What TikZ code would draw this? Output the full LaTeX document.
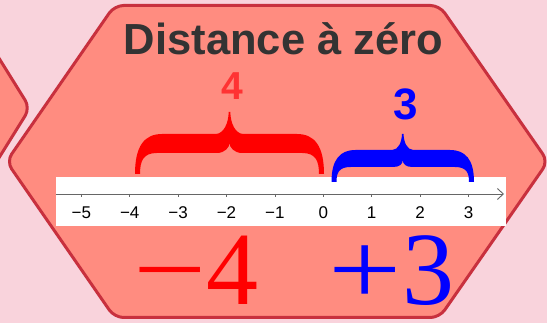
\documentclass[tikz,border=0pt]{standalone}
\usepackage{fontspec}
\setmainfont{Liberation Serif}
\setsansfont{Liberation Sans}
\usetikzlibrary{arrows.meta}

\definecolor{pinkbg}{HTML}{F9D3DC}
\definecolor{hexfill}{HTML}{FF8C80}
\definecolor{hexdraw}{HTML}{C8303E}
\definecolor{titlegrey}{HTML}{333333}
\definecolor{lightred}{HTML}{FF3333}

% filled curly brace: colour, left x, right x, foot y, band top, band bottom, tip y, notch y, corner
\newcommand{\fatbrace}[9]{%
  \pgfmathsetmacro{\bmid}{(#2+#3)/2}%
  \pgfmathsetmacro{\bcusp}{0.075*(#3-#2)}%
  \fill[#1] (#2,#4) .. controls (#2,{#5+0.3*(#4-#5)}) and ({#2+0.35*#9},#5) .. ({#2+#9},#5)
    -- ({\bmid-\bcusp},#5) .. controls ({\bmid-0.4*\bcusp},#5) and ({\bmid-1},{#5-0.5*(#5-#7)}) .. ({\bmid-0.8},#7)
    -- ({\bmid+0.8},#7) .. controls ({\bmid+1},{#5-0.5*(#5-#7)}) and ({\bmid+0.4*\bcusp},#5) .. ({\bmid+\bcusp},#5)
    -- ({#3-#9},#5) .. controls ({#3-0.35*#9},#5) and (#3,{#5+0.3*(#4-#5)}) .. (#3,#4)
    -- ({#3-5},#4) .. controls ({#3-5},{#6+0.4*(#4-#6)}) and ({#3-0.3*#9},#6) .. ({#3-0.8*#9},#6)
    -- ({\bmid+0.9*\bcusp},#6) .. controls ({\bmid+0.3*\bcusp},#6) and (\bmid,{#8+4}) .. (\bmid,#8)
    .. controls (\bmid,{#8+4}) and ({\bmid-0.3*\bcusp},#6) .. ({\bmid-0.9*\bcusp},#6)
    -- ({#2+0.8*#9},#6) .. controls ({#2+0.3*#9},#6) and ({#2+5},{#6+0.4*(#4-#6)}) .. ({#2+5},#4)
    -- cycle;}

\begin{document}
\begin{tikzpicture}[
    x=1pt, y=-1pt,
    hexa/.style={fill=hexfill, draw=hexdraw, line width=3pt, rounded corners=9pt, line join=round},
    ticklabel/.style={font=\sffamily\fontsize{17}{17}\selectfont, anchor=base},
    axisline/.style={draw=black!60, line width=0.9pt, -{Straight Barb[length=6pt,width=11pt]}},
    bignum/.style={font=\fontsize{104}{104}\selectfont, anchor=base, text depth=0pt, inner sep=0pt}
]

% background
\fill[pinkbg] (0,0) rectangle (547,323);
\useasboundingbox (0,0) rectangle (547,323);
\clip (0,0) rectangle (547,323);

% neighbour card and main card
\draw[hexa] (-112,-120) -- (30,108) -- (-112,336) -- cycle;
\draw[hexa] (277,5.5) -- (439.5,5.5) -- (548,161.5) -- (439.5,317.5) -- (114.5,317.5) -- (6.5,161.5) -- (114.5,5.5) -- cycle;

% title
\node[font=\sffamily\bfseries\fontsize{43.5}{43.5}\selectfont, text=titlegrey, anchor=base] (title) at (283.5,54.5) {Distance à zéro};

% number line
\node[fill=white, minimum width=450pt, minimum height=49pt, inner sep=0pt] (band) at (281,201.5) {};
\draw[axisline] (56,194) -- (504,194);
\foreach \n/\t in {-5/−5, -4/−4, -3/−3, -2/−2, -1/−1, 0/0, 1/1, 2/2, 3/3} {
  \draw[black!60, line width=0.6pt] ({323.3+48.4*(\n)},194) -- ++(0,3);
  \node[ticklabel] (tick\n) at ({323.3+48.4*(\n)},218.7) {\t};
}

% braces
\fatbrace{red}{135}{324}{174}{134}{153}{112}{143}{27}
\fatbrace{blue}{331.5}{474}{182}{150}{167}{134}{160}{24}

% distances
\node[font=\sffamily\bfseries\fontsize{39}{39}\selectfont, text=lightred, anchor=base] (redlen) at (232,99.3) {4};
\node[font=\sffamily\bfseries\fontsize{44}{44}\selectfont, text=blue, anchor=base] (bluelen) at (405.5,119.5) {3};

% numbers
\node[bignum, text=red] (neg) at (196,305) {\scalebox{1.25}[1]{−}4};
\node[bignum, text=blue] (pos) at (391.5,305) {\scalebox{1.25}[1]{+}3};

\end{tikzpicture}
\end{document}
